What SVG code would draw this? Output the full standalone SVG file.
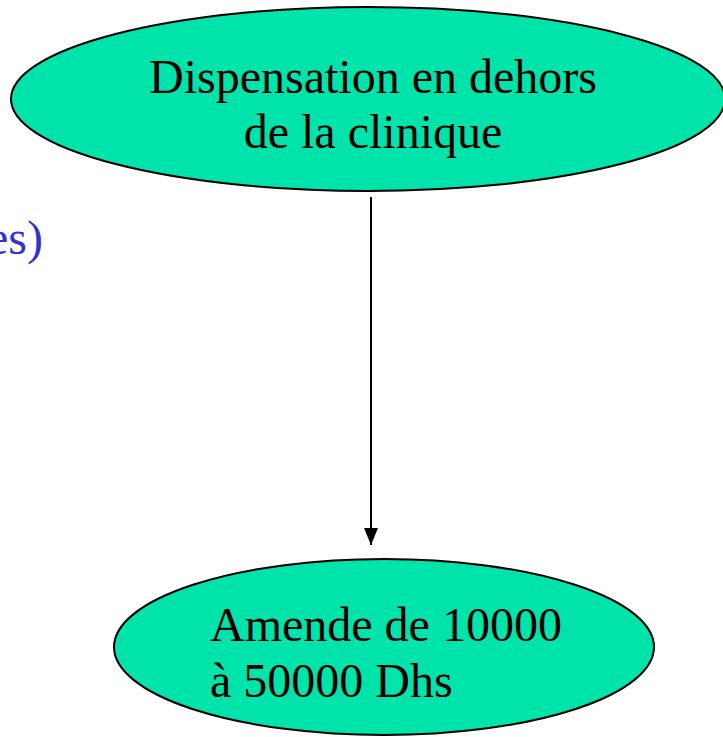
<svg xmlns="http://www.w3.org/2000/svg" width="723" height="737" viewBox="0 0 723 737">
<style>
.node{fill:#00E3AA;stroke:#000;stroke-width:2}
.t{font-family:"Liberation Serif","Times New Roman",serif;font-size:48px;fill:#000}
.conn{stroke:#000;stroke-width:2;fill:none}
</style>
<defs>
<marker id="ah" viewBox="0 0 14 17" refX="7" refY="17" markerWidth="14" markerHeight="17" markerUnits="userSpaceOnUse" orient="0"><path d="M0,0 L14,0 L7,17 z" fill="#000"/></marker>
</defs>
<rect width="723" height="737" fill="#fff"/>
<text x="43" y="254" text-anchor="end" font-family="Liberation Serif, serif" font-size="48" fill="#3333CC">es)</text>
<g id="connectors">
<line class="conn" x1="371" y1="197" x2="371" y2="545" marker-end="url(#ah)"/>
</g>
<g id="node-dispensation">
<ellipse class="node" cx="368" cy="99" rx="357" ry="92"/>
<text class="t" x="373" y="93" text-anchor="middle">Dispensation en dehors</text>
<text class="t" x="373" y="148" text-anchor="middle">de la clinique</text>
</g>
<g id="node-amende">
<ellipse class="node" cx="384" cy="647" rx="270" ry="88"/>
<text class="t" x="210" y="641">Amende de 10000</text>
<text class="t" x="210" y="697">à 50000 Dhs</text>
</g>
</svg>
